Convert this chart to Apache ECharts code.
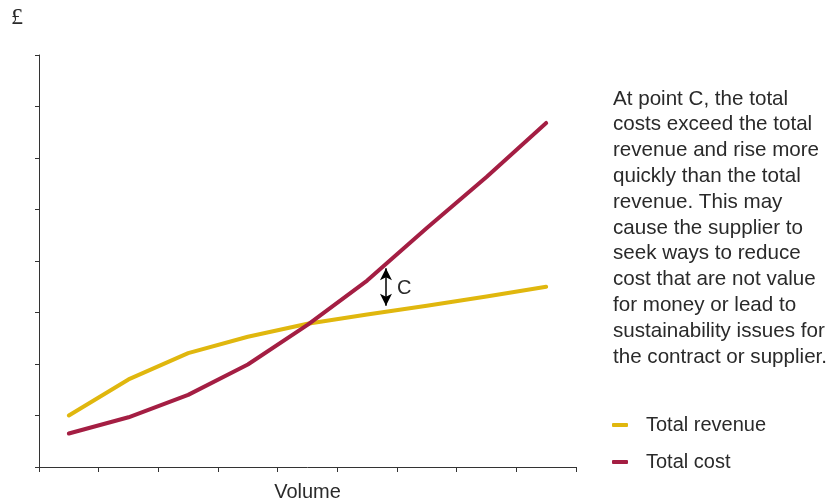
<!DOCTYPE html>
<html>
<head>
<meta charset="utf-8">
<script src="https://cdn.jsdelivr.net/npm/echarts@6/dist/echarts.min.js"></script>
<style>
  html, body { margin: 0; padding: 0; background: #fff; }
  #chart { width: 832px; height: 501px; }
</style>
</head>
<body>
<div id="chart"></div>
<script>
// Volume bands along the horizontal axis (each point sits mid-band)
const volumeBands = [1, 2, 3, 4, 5, 6, 7, 8, 9];
// Total revenue and total cost, in arbitrary £ units
const totalRevenue = [1.0, 1.70, 2.21, 2.53, 2.78, 2.96, 3.13, 3.31, 3.50];
const totalCost = [0.65, 0.965, 1.40, 1.99, 2.76, 3.62, 4.64, 5.63, 6.68];
// Point C: the gap between cost and revenue
const pointC = { volume: 5.815, cost: 3.86, revenue: 3.13 };

const noteLines = [
  'At point C, the total',
  'costs exceed the total',
  'revenue and rise more',
  'quickly than the total',
  'revenue. This may',
  'cause the supplier to',
  'seek ways to reduce',
  'cost that are not value',
  'for money or lead to',
  'sustainability issues for',
  'the contract or supplier.'
];

const FONT = 'Liberation Sans, Arial, sans-serif';
const TEXT = '#2a2a2a';
const AXIS = '#333';
const YELLOW = '#E0B70E';
const RED = '#A41E43';

const toPairs = vals => vals.map((v, i) => [volumeBands[i] - 0.5, v]);

const chart = echarts.init(document.getElementById('chart'), null, { renderer: 'canvas' });
chart.setOption({
  animation: false,
  grid: { left: 39, right: 256, top: 55, bottom: 34, containLabel: false, outerBoundsMode: 'none' },
  xAxis: {
    type: 'value', min: 0, max: 9, interval: 1,
    name: 'Volume', nameLocation: 'middle', nameGap: 15,
    nameTextStyle: { fontFamily: FONT, fontSize: 20, color: TEXT },
    axisLine: { show: true, lineStyle: { color: AXIS, width: 1 } },
    axisTick: { show: true, length: 5, lineStyle: { color: AXIS } },
    axisLabel: { show: false },
    splitLine: { show: false }
  },
  yAxis: {
    type: 'value', min: 0, max: 8, interval: 1,
    axisLine: { show: true, lineStyle: { color: AXIS, width: 1 } },
    axisTick: { show: true, length: 4, lineStyle: { color: AXIS } },
    axisLabel: { show: false },
    splitLine: { show: false }
  },
  legend: {
    orient: 'vertical', left: 612, top: 415, itemGap: 17, padding: 0,
    itemWidth: 16, itemHeight: 4, icon: 'roundRect',
    textStyle: { fontFamily: FONT, fontSize: 20, color: TEXT, padding: [0, 0, 0, 13] },
    data: ['Total revenue', 'Total cost']
  },
  graphic: [
    { type: 'text', left: 11, top: 6,
      style: { text: '£', font: '24px "Liberation Serif", serif', fill: TEXT } },
    { type: 'text', left: 613, top: 86,
      style: { text: noteLines.join('\n'), font: '20.6px ' + FONT, lineHeight: 25.8, fill: TEXT } }
  ],
  series: [
    {
      name: 'Total revenue', type: 'line', data: toPairs(totalRevenue),
      symbol: 'none', itemStyle: { color: YELLOW },
      lineStyle: { color: YELLOW, width: 4, cap: 'round', join: 'round' }
    },
    {
      name: 'Total cost', type: 'line', data: toPairs(totalCost),
      symbol: 'none', itemStyle: { color: RED },
      lineStyle: { color: RED, width: 4, cap: 'round', join: 'round' },
      markLine: {
        silent: true, symbol: ['arrow', 'arrow'], symbolSize: [9, 12],
        lineStyle: { color: '#000', width: 1.5, type: 'solid' },
        label: { show: false },
        data: [[{ coord: [pointC.volume, pointC.cost] }, { coord: [pointC.volume, pointC.revenue] }]]
      },
      markPoint: {
        silent: true, symbol: 'circle', symbolSize: 0,
        label: { show: true, position: 'right', distance: 0, formatter: 'C',
                 fontFamily: FONT, fontSize: 20, color: TEXT },
        data: [{ coord: [6.0, (pointC.cost + pointC.revenue) / 2 - 0.02] }]
      }
    }
  ]
});
</script>
</body>
</html>
